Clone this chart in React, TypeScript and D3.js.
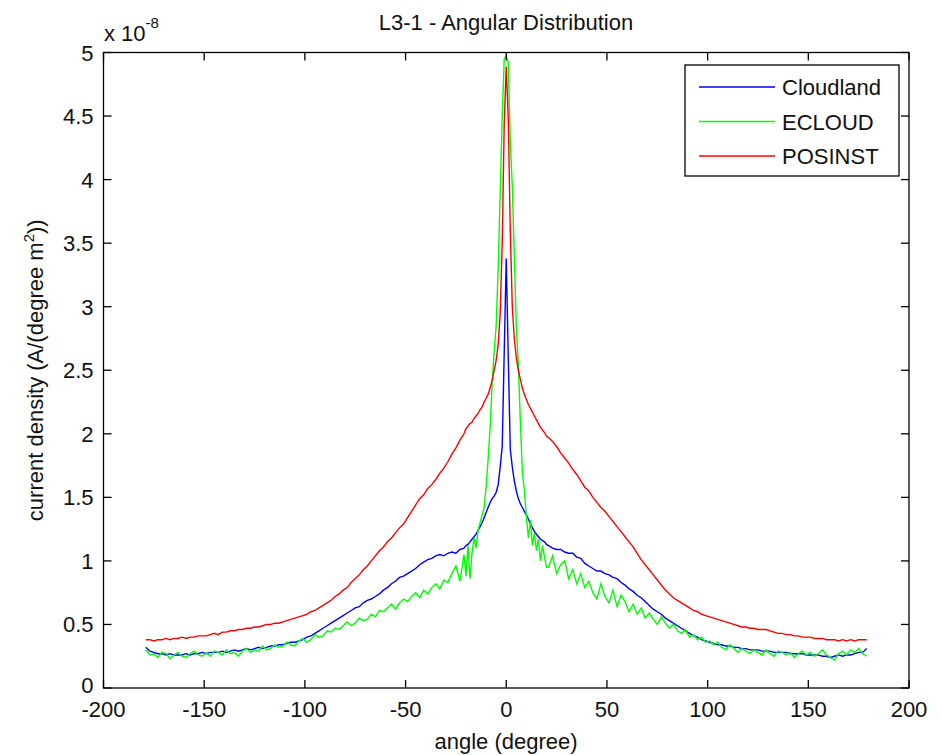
import React from "react";
import * as d3 from "d3";

// x grid: 2-degree steps in the tails, 1-degree steps near the centre
const anglesLeft = d3.range(-179, -20, 2);
const anglesCenter = d3.range(-20, 21, 1);
const anglesRight = d3.range(21, 180, 2);
const angles = [...anglesLeft, ...anglesCenter, ...anglesRight];

const seriesNames = ["Cloudland", "ECLOUD", "POSINST"];
const seriesColors = ["#0000ff", "#00ff00", "#ff0000"];

const xTicks = [-200, -150, -100, -50, 0, 50, 100, 150, 200];
const yTicks = [0, 0.5, 1, 1.5, 2, 2.5, 3, 3.5, 4, 4.5, 5];
const yTickLabels = ["0", "0.5", "1", "1.5", "2", "2.5", "3", "3.5", "4", "4.5", "5"];

// values in units of 1e-8 A/(degree m^2)
const cloudland = [
  0.32, 0.29, 0.28, 0.27, 0.27, 0.26, 0.27, 0.26, 0.26, 0.26,
  0.27, 0.26, 0.27, 0.27, 0.28, 0.27, 0.28, 0.28, 0.28, 0.29,
  0.28, 0.29, 0.30, 0.29, 0.30, 0.31, 0.30, 0.31, 0.32, 0.31,
  0.32, 0.33, 0.33, 0.34, 0.34, 0.35, 0.36, 0.36, 0.37, 0.38,
  0.40, 0.41, 0.43, 0.45, 0.47, 0.49, 0.51, 0.53, 0.55, 0.57,
  0.59, 0.61, 0.63, 0.64, 0.67, 0.69, 0.70, 0.72, 0.74, 0.77,
  0.79, 0.82, 0.84, 0.87, 0.88, 0.90, 0.92, 0.94, 0.97, 0.99,
  1.01, 1.02, 1.04, 1.05, 1.04, 1.06, 1.07, 1.06, 1.09, 1.10,
  // -20 .. 20
  1.12, 1.13, 1.15, 1.17, 1.19, 1.21, 1.24, 1.27, 1.30, 1.34,
  1.38, 1.42, 1.46, 1.49, 1.51, 1.54, 1.60, 1.74, 1.90, 2.65,
  3.38,
  2.60, 1.88, 1.74, 1.63, 1.55, 1.49, 1.45, 1.42, 1.39, 1.36,
  1.33, 1.29, 1.26, 1.23, 1.21, 1.19, 1.17, 1.16, 1.15, 1.13,
  // 21 .. 179
  1.12, 1.10, 1.09, 1.09, 1.07, 1.06, 1.06, 1.03, 1.02, 0.98,
  0.96, 0.94, 0.92, 0.92, 0.90, 0.89, 0.87, 0.86, 0.83, 0.81,
  0.78, 0.76, 0.73, 0.71, 0.68, 0.65, 0.62, 0.60, 0.58, 0.55,
  0.53, 0.51, 0.49, 0.47, 0.45, 0.43, 0.41, 0.40, 0.38, 0.37,
  0.36, 0.35, 0.34, 0.34, 0.33, 0.33, 0.32, 0.32, 0.31, 0.31,
  0.30, 0.30, 0.30, 0.29, 0.29, 0.29, 0.28, 0.28, 0.28, 0.28,
  0.27, 0.27, 0.27, 0.27, 0.26, 0.26, 0.26, 0.26, 0.25, 0.25,
  0.24, 0.25, 0.26, 0.25, 0.26, 0.26, 0.27, 0.28, 0.28, 0.31,
];

const ecloud = [
  0.30, 0.26, 0.27, 0.24, 0.28, 0.27, 0.23, 0.26, 0.28, 0.25,
  0.24, 0.27, 0.29, 0.26, 0.25, 0.28, 0.25, 0.29, 0.28, 0.26,
  0.30, 0.27, 0.28, 0.25, 0.29, 0.31, 0.28, 0.30, 0.29, 0.33,
  0.30, 0.31, 0.34, 0.32, 0.33, 0.36, 0.34, 0.33, 0.37, 0.39,
  0.36, 0.38, 0.42, 0.40, 0.41, 0.45, 0.44, 0.47, 0.46, 0.49,
  0.52, 0.49, 0.51, 0.55, 0.53, 0.54, 0.58, 0.56, 0.61, 0.60,
  0.63, 0.66, 0.62, 0.67, 0.70, 0.68, 0.72, 0.75, 0.71, 0.77,
  0.74, 0.79, 0.82, 0.78, 0.85, 0.83, 0.90, 0.96, 0.84, 1.05,
  // -20 .. 20
  0.88, 1.12, 0.86, 1.06, 1.18, 1.10, 1.24, 1.30, 1.36, 1.42,
  1.58, 1.80, 2.05, 2.40, 2.65, 2.85, 3.30, 3.90, 4.50, 4.95,
  4.97,
  4.92, 4.30, 3.95, 3.40, 2.85, 2.55, 2.10, 1.70, 1.55, 1.35,
  1.18, 1.32, 1.12, 1.22, 1.08, 1.17, 1.00, 1.12, 1.03, 0.95,
  // 21 .. 179
  0.95, 1.04, 0.90, 0.97, 1.00, 0.86, 0.93, 0.82, 0.90, 0.79,
  0.84, 0.75, 0.70, 0.82, 0.72, 0.67, 0.77, 0.64, 0.73, 0.68,
  0.60, 0.66, 0.58, 0.63, 0.55, 0.59, 0.54, 0.50, 0.56, 0.51,
  0.47, 0.50, 0.45, 0.43, 0.46, 0.40, 0.42, 0.38, 0.40, 0.36,
  0.37, 0.34, 0.36, 0.32, 0.30, 0.34, 0.31, 0.28, 0.31, 0.29,
  0.27, 0.30, 0.28, 0.26, 0.30, 0.27, 0.25, 0.29, 0.28, 0.26,
  0.28, 0.24, 0.27, 0.29, 0.26, 0.28, 0.25, 0.27, 0.30, 0.26,
  0.24, 0.22, 0.27, 0.29, 0.26, 0.30, 0.28, 0.31, 0.27, 0.25,
];

const posinst = [
  0.38, 0.38, 0.37, 0.38, 0.38, 0.39, 0.38, 0.39, 0.39, 0.40,
  0.39, 0.40, 0.40, 0.41, 0.41, 0.41, 0.42, 0.43, 0.42, 0.44,
  0.44, 0.45, 0.45, 0.46, 0.46, 0.47, 0.47, 0.48, 0.48, 0.49,
  0.50, 0.50, 0.51, 0.51, 0.52, 0.53, 0.54, 0.55, 0.56, 0.57,
  0.58, 0.60, 0.61, 0.63, 0.65, 0.67, 0.69, 0.72, 0.74, 0.77,
  0.79, 0.83, 0.86, 0.89, 0.93, 0.96, 1.00, 1.04, 1.08, 1.11,
  1.15, 1.18, 1.22, 1.26, 1.29, 1.34, 1.39, 1.44, 1.49, 1.52,
  1.57, 1.60, 1.64, 1.69, 1.73, 1.78, 1.84, 1.89, 1.95, 2.00,
  // -20 .. 20
  2.04, 2.06, 2.08, 2.09, 2.12, 2.14, 2.16, 2.19, 2.21, 2.25,
  2.28, 2.31, 2.36, 2.42, 2.50, 2.58, 2.70, 2.95, 3.50, 4.45,
  4.89,
  4.48, 3.60, 3.00, 2.75, 2.60, 2.50, 2.43, 2.36, 2.31, 2.27,
  2.23, 2.20, 2.17, 2.14, 2.11, 2.08, 2.05, 2.03, 2.01, 1.98,
  // 21 .. 179
  1.97, 1.94, 1.90, 1.85, 1.81, 1.77, 1.72, 1.68, 1.63, 1.58,
  1.55, 1.50, 1.46, 1.42, 1.39, 1.35, 1.31, 1.27, 1.23, 1.19,
  1.15, 1.11, 1.06, 1.01, 0.97, 0.93, 0.89, 0.85, 0.81, 0.77,
  0.74, 0.71, 0.69, 0.67, 0.65, 0.63, 0.61, 0.60, 0.58, 0.57,
  0.56, 0.55, 0.54, 0.53, 0.52, 0.51, 0.50, 0.49, 0.48, 0.48,
  0.47, 0.47, 0.46, 0.46, 0.46, 0.45, 0.44, 0.43, 0.43, 0.42,
  0.42, 0.41, 0.41, 0.40, 0.40, 0.40, 0.39, 0.39, 0.39, 0.38,
  0.38, 0.38, 0.37, 0.38, 0.37, 0.38, 0.37, 0.38, 0.38, 0.38,
];

const seriesValues = [cloudland, ecloud, posinst];

const W = 942;
const H = 755;
const L = 103.5, R = 909, T = 52.5, B = 688;
const FONT = "'Liberation Sans', Arial, sans-serif";

export default function App() {
  const x = d3.scaleLinear().domain([-200, 200]).range([L, R]);
  const y = d3.scaleLinear().domain([0, 5]).range([B, T]);
  const line = d3
    .line<[number, number]>()
    .x((d) => x(d[0]))
    .y((d) => y(d[1]));

  const tickLen = 8;
  const fs = 22;

  return (
    <svg
      width={W}
      height={H}
      style={{ position: "absolute", left: 0, top: 0, background: "#fff" }}
      fontFamily={FONT}
    >
      <rect x={0} y={0} width={W} height={H} fill="#fff" />
      <defs>
        <clipPath id="clip">
          <rect x={L} y={T - 2} width={R - L} height={B - T + 2} />
        </clipPath>
      </defs>
      {/* data */}
      <g clipPath="url(#clip)">
        {seriesValues.map((vals, i) => (
          <path
            key={seriesNames[i]}
            d={line(angles.map((a, j) => [a, vals[j]] as [number, number])) || ""}
            fill="none"
            stroke={seriesColors[i]}
            strokeWidth={1.4}
            strokeLinejoin="miter"
          />
        ))}
      </g>
      {/* axes box */}
      <rect x={L} y={T} width={R - L} height={B - T} fill="none" stroke="#000" strokeWidth={1.3} />
      {/* x ticks */}
      {xTicks.map((t) => (
        <g key={"xt" + t}>
          <line x1={x(t)} x2={x(t)} y1={B} y2={B - tickLen} stroke="#000" strokeWidth={1.3} />
          <line x1={x(t)} x2={x(t)} y1={T} y2={T + tickLen} stroke="#000" strokeWidth={1.3} />
          <text x={x(t)} y={B + 29} textAnchor="middle" fontSize={fs} fill="#111">
            {String(t)}
          </text>
        </g>
      ))}
      {/* y ticks */}
      {yTicks.map((t, i) => (
        <g key={"yt" + t}>
          <line x1={L} x2={L + tickLen} y1={y(t)} y2={y(t)} stroke="#000" strokeWidth={1.3} />
          <line x1={R} x2={R - tickLen} y1={y(t)} y2={y(t)} stroke="#000" strokeWidth={1.3} />
          <text x={L - 10} y={y(t) + (t === 0 ? 5 : 8)} textAnchor="end" fontSize={fs} fill="#111">
            {yTickLabels[i]}
          </text>
        </g>
      ))}
      {/* exponent */}
      <text x={104} y={41} fontSize={fs} fill="#111">
        x 10
        <tspan dy={-13} fontSize={15}>-8</tspan>
      </text>
      {/* title */}
      <text x={506} y={30} textAnchor="middle" fontSize={fs} fill="#111">
        L3-1 - Angular Distribution
      </text>
      {/* x label */}
      <text x={506} y={749} textAnchor="middle" fontSize={fs} fill="#111">
        angle (degree)
      </text>
      {/* y label */}
      <text
        transform={`translate(43, ${(T + B) / 2}) rotate(-90)`}
        textAnchor="middle"
        fontSize={fs}
        fill="#111"
      >
        current density (A/(degree m
        <tspan dy={-9} fontSize={15}>2</tspan>
        <tspan dy={9}>))</tspan>
      </text>
      {/* legend */}
      <rect x={685} y={65} width={214} height={111} fill="#fff" stroke="#000" strokeWidth={1.3} />
      {seriesNames.map((n, i) => {
        const ly = 87 + i * 34.5;
        return (
          <g key={"lg" + n}>
            <line x1={699} x2={775} y1={ly} y2={ly} stroke={seriesColors[i]} strokeWidth={1.4} />
            <text x={782} y={ly + 8} fontSize={fs} fill="#111">
              {n}
            </text>
          </g>
        );
      })}
    </svg>
  );
}
